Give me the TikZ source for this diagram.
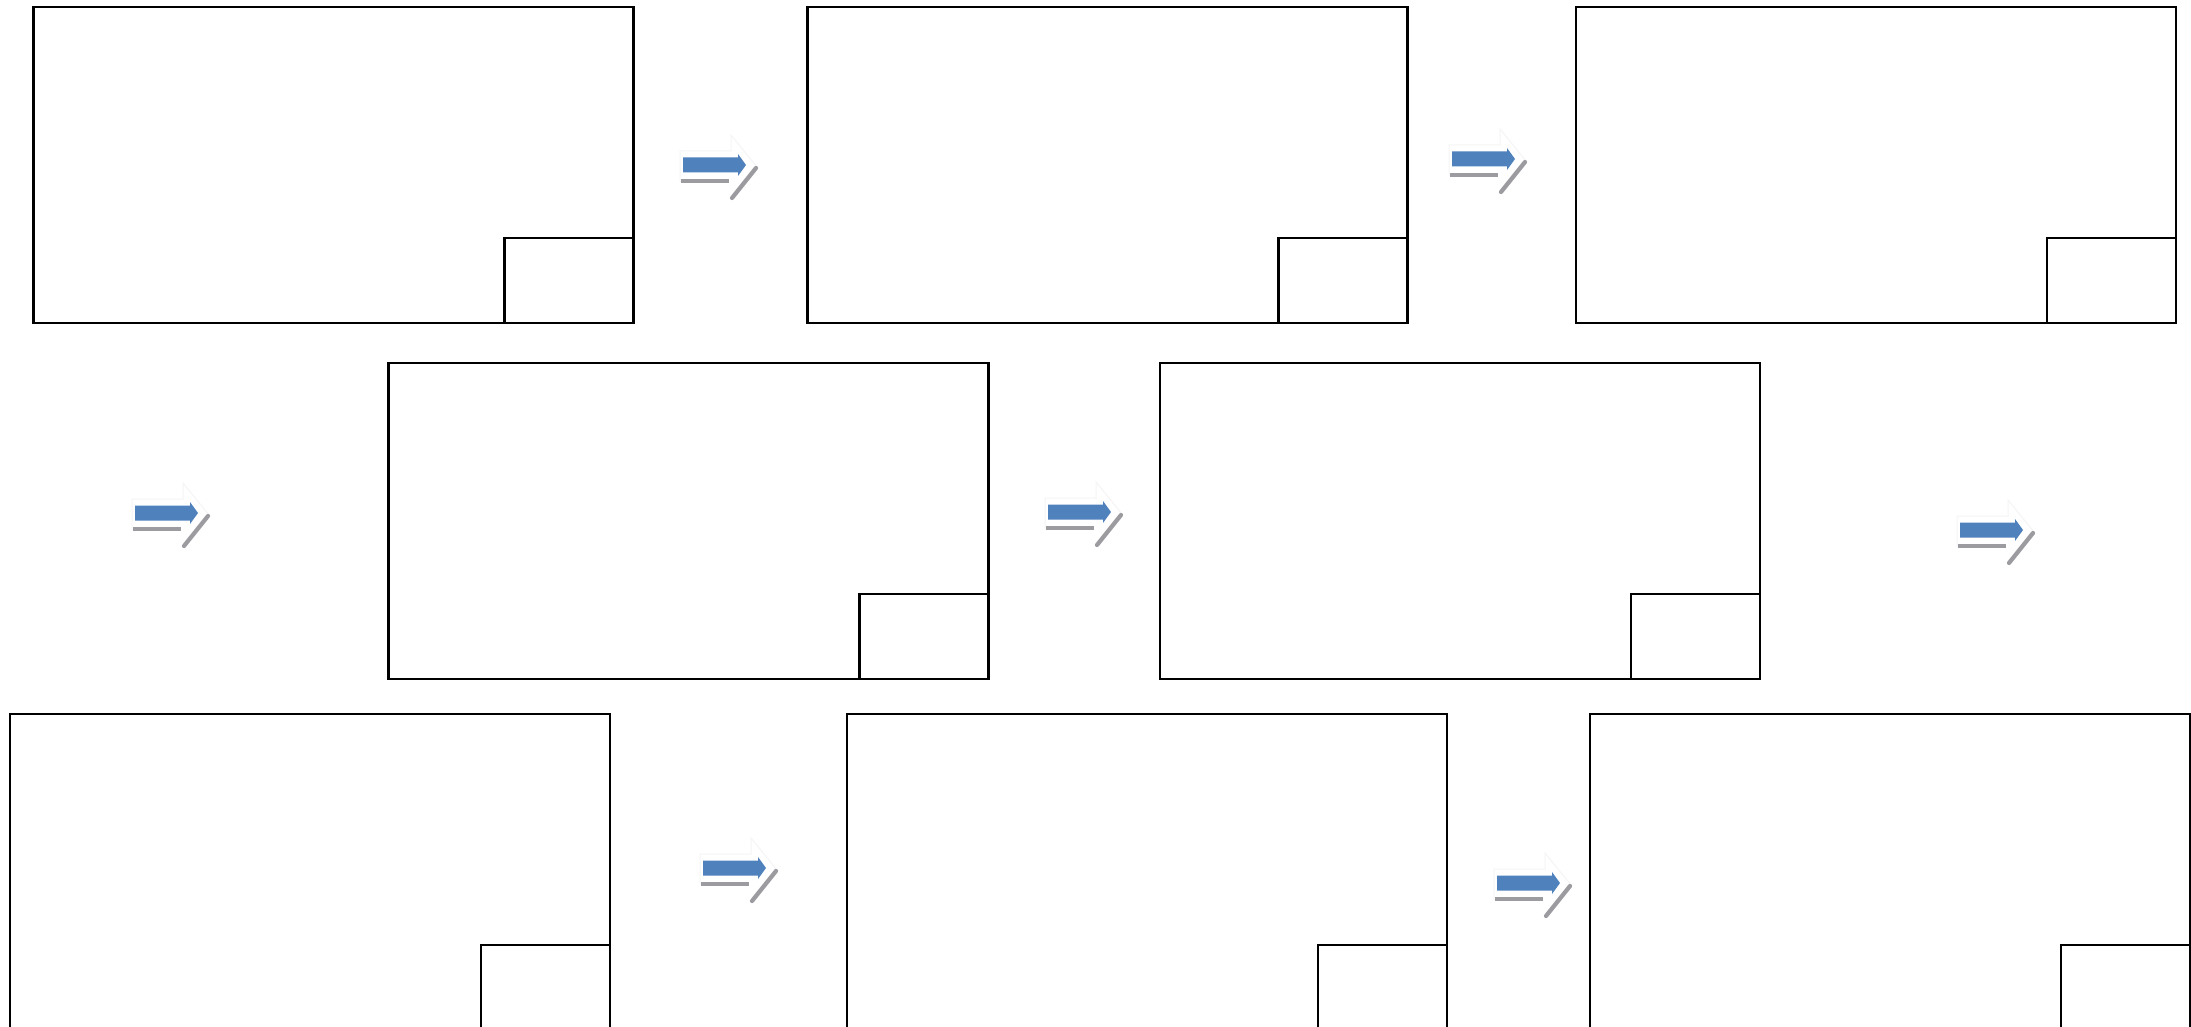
\documentclass[tikz,border=0pt]{standalone}
\definecolor{arrblue}{RGB}{79,129,189}
\definecolor{shadowgray}{RGB}{155,155,160}
\begin{document}
\begin{tikzpicture}[x=1pt,y=-1pt,
  frame/.style={draw=black, line width=2.4pt, rectangle, minimum width=600pt, minimum height=316pt, anchor=north west, inner sep=0pt, outer sep=0pt},
  corner/.style={draw=black, line width=2.4pt, rectangle, minimum width=129pt, minimum height=85pt, anchor=south east, inner sep=0pt, outer sep=0pt},
  flowarrow/.pic={
    \fill[white] (-3,-14) -- (48,-14) -- (48,-30) -- (74,2) -- (48,33) -- (48,17) -- (-3,17) -- cycle;
    \draw[gray!8, line width=1pt] (-3,17) -- (-3,-14) -- (48,-14) -- (48,-30) -- (74,2);
    \draw[shadowgray, line width=4.2pt] (-2,16) -- (46,16);
    \draw[shadowgray, line width=4.2pt, line cap=round] (73,3) -- (49,33);
    \fill[arrblue] (0,-7.5) -- (55,-7.5) -- (55,-11) -- (63,0) -- (55,11) -- (55,7.5) -- (0,7.5) -- cycle;
  }
]
\useasboundingbox (0,0) rectangle (2191,1027);
\clip (0,0) rectangle (2191,1027);
\fill[white] (0,0) rectangle (2191,1027);

% row 1
\node[frame] (A) at (33.5,7) {};
\node[corner] (Ac) at (A.south east) {};
\node[frame] (B) at (807.5,7) {};
\node[corner] (Bc) at (B.south east) {};
\node[frame] (C) at (1576,7) {};
\node[corner] (Cc) at (C.south east) {};

% row 2
\node[frame] (D) at (388.5,363) {};
\node[corner] (Dc) at (D.south east) {};
\node[frame] (E) at (1160,363) {};
\node[corner] (Ec) at (E.south east) {};

% row 3
\node[frame] (F) at (10,714) {};
\node[corner] (Fc) at (F.south east) {};
\node[frame] (G) at (847,714) {};
\node[corner] (Gc) at (G.south east) {};
\node[frame] (H) at (1590,714) {};
\node[corner] (Hc) at (H.south east) {};

% arrows
\pic (arr1) at (683,165) {flowarrow};
\pic (arr2) at (1452,159) {flowarrow};
\pic (arr3) at (135,513) {flowarrow};
\pic (arr4) at (1048,512) {flowarrow};
\pic (arr5) at (1960,530) {flowarrow};
\pic (arr6) at (703,868) {flowarrow};
\pic (arr7) at (1497,883) {flowarrow};
\end{tikzpicture}
\end{document}
